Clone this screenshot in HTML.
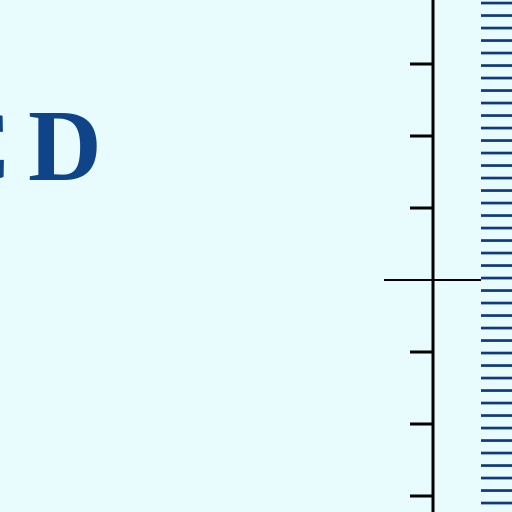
<!DOCTYPE html>
<html><head><meta charset="utf-8">
<style>
html,body{margin:0;padding:0;background:#e8fbfd;}
svg{display:block;}
</style></head>
<body>
<svg id="chart" width="512" height="512" viewBox="0 0 512 512" xmlns="http://www.w3.org/2000/svg">
  <rect x="0" y="0" width="512" height="512" fill="#e8fbfd"/>
  <text x="-62" y="180" font-family="Liberation Serif, serif" font-weight="bold" font-size="102" fill="#0f4489">C</text>
  <text x="28" y="180" font-family="Liberation Serif, serif" font-weight="bold" font-size="102" fill="#0f4489">D</text>
  <line x1="433" y1="0" x2="433" y2="512" stroke="#000" stroke-width="3"/>
  <g id="ticks"></g>
  <g id="stripes"></g>
</svg>
<script>
const tickValues = [64, 136, 208, 352, 424, 496];
const zeroValue = [280];
const stripeStart = 3;
const stripeStep = 12.5;
const NS = "http://www.w3.org/2000/svg";
const ticks = document.getElementById('ticks');
tickValues.forEach(v => {
  const l = document.createElementNS(NS, 'line');
  
  
  l.setAttribute('x1', 410); l.setAttribute('x2', 434);
  l.setAttribute('y1', v); l.setAttribute('y2', v);
  l.setAttribute('stroke', '#000'); l.setAttribute('stroke-width', 3);
  ticks.appendChild(l);
});
zeroValue.forEach(v => {
  const l = document.createElementNS(NS, 'line');
  
  
  l.setAttribute('x1', 384); l.setAttribute('x2', 481);
  l.setAttribute('y1', v); l.setAttribute('y2', v);
  l.setAttribute('stroke', '#000'); l.setAttribute('stroke-width', 2);
  ticks.appendChild(l);
});
const stripes = document.getElementById('stripes');
for (let y = stripeStart; y < 512; y += stripeStep) {
  const r = document.createElementNS(NS, 'rect');
  
  
  r.setAttribute('x', 481); r.setAttribute('y', y - 1.3);
  r.setAttribute('width', 31); r.setAttribute('height', 2.7);
  r.setAttribute('fill', '#0f3a80');
  stripes.appendChild(r);
}
</script>
</body></html>
